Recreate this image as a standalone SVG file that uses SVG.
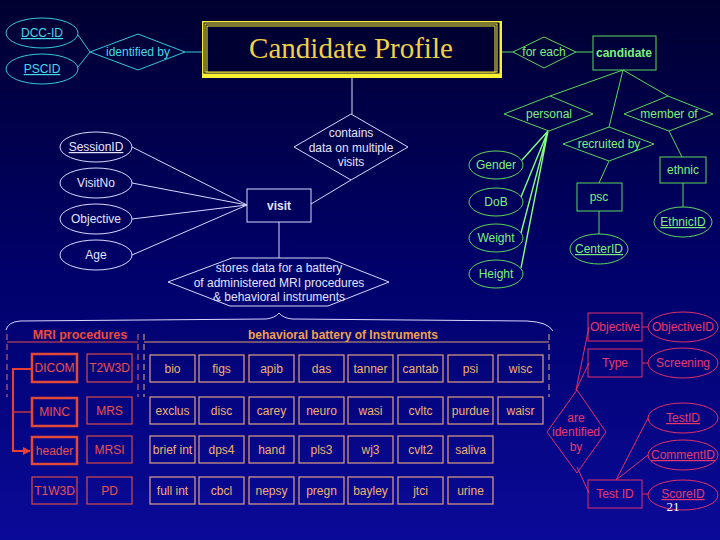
<svg xmlns="http://www.w3.org/2000/svg" width="720" height="540" viewBox="0 0 720 540">
<defs>
<linearGradient id="bg" x1="0" y1="0" x2="0" y2="1">
<stop offset="0" stop-color="#000030"/>
<stop offset="0.5" stop-color="#00006a"/>
<stop offset="1" stop-color="#0a0a98"/>
</linearGradient>
<marker id="arr" viewBox="0 0 10 10" refX="9" refY="5" markerWidth="4" markerHeight="4" orient="auto" markerUnits="strokeWidth">
<path d="M0,0 L10,5 L0,10 z" fill="#e84030"/>
</marker>
<style>
text{font-family:"Liberation Sans",Arial,sans-serif;font-size:12px;text-anchor:middle}
.b{font-weight:bold}
.u{text-decoration:underline}
.cy{fill:none;stroke:#35c8d8;stroke-width:1}
.cyt{fill:#45d8e8}
.w{fill:none;stroke:#d8d8ff;stroke-width:1}
.wt{fill:#e4e4ff}
.g{fill:none;stroke:#5cd85c;stroke-width:1}
.gt{fill:#7cf07c}
.r{fill:none;stroke:#d84a48;stroke-width:1.2}
.rk{fill:none;stroke:#e04838;stroke-width:2.5}
.rt{fill:#e85050}
.o{fill:none;stroke:#e0a080;stroke-width:1.2}
.ot{fill:#f0b070}
.c{fill:none;stroke:#e0306a;stroke-width:1}
.ct{fill:#e8386e}
.dash{stroke-dasharray:6,4}
</style>
</defs>
<rect width="720" height="540" fill="url(#bg)"/>

<g id="connectors">
<path class="cy" d="M78,35 L90,52 M78,67 L90,52 M185,52 L202,52"/>
<path class="w" d="M352,78 L352,114 M311,204 L351,180 M132,147 L247,205 M132,183 L247,205 M132,219 L247,205 M132,255 L247,205 M279,222 L279,258"/>
<path class="w" d="M6,330 Q8,322 20,321 L266,319 Q275,318 279,313 Q283,318 292,319 L527,321 Q548,322 553,331"/>
<path class="g" d="M502,52 L513,52 M576,52 L593,52 M623,70 L550,96 M623,70 L609,127 M623,70 L668,96 M609,161 L599,183 M599,211 L599,234 M669,131 L682,157 M683,183 L683,207"/>
<path fill="none" stroke="#80ff80" stroke-width="1.4" d="M548,131 L522,160 M548,131 L521,197 M548,131 L521,233 M548,131 L521,268"/>
<path fill="none" stroke="#e05048" stroke-width="1.2" d="M7,342 H138"/>
<path fill="none" stroke="#e07070" stroke-width="1" class="dash" d="M7,334 V397 M138,334 V397"/>
<path fill="none" stroke="#e0a070" stroke-width="1.2" d="M144,342 H549"/>
<path fill="none" stroke="#e0b090" stroke-width="1" class="dash" d="M144,334 V397 M549,334 V397"/>
<path fill="none" stroke="#e84030" stroke-width="2" d="M32,369 H13 V451 H30" marker-end="url(#arr)"/>
<path fill="none" stroke="#e84030" stroke-width="1.2" d="M13,412 H32"/>
<path class="c" d="M642,327 L648,327 M642,363 L648,363 M642,494 L648,494 M616,480 L648,418 M616,480 L648,455 M576,390 L589,327 M576,390 L589,363 M577,467 L589,493"/>
</g>

<g id="dcc-id"><ellipse class="cy" cx="42" cy="33" rx="36" ry="15"/><text class="cyt u" x="42" y="37">DCC-ID</text></g>
<g id="pscid"><ellipse class="cy" cx="42" cy="69" rx="36" ry="15"/><text class="cyt u" x="42" y="73">PSCID</text></g>
<g id="identified-by"><polygon class="cy" points="90,52 138,34 185,52 138,70"/><text class="cyt" x="138" y="56">identified by</text></g>

<g id="candidate-profile">
<rect x="202" y="21" width="300" height="57" fill="#f8f030"/>
<rect x="203.5" y="22.5" width="296" height="51" fill="#000033"/>
<rect x="205" y="24" width="292" height="48" fill="none" stroke="#f8f030" stroke-width="1"/>
<rect x="207" y="26" width="288" height="46" fill="#000033" stroke="#f8f030" stroke-width="1"/>
<text x="351" y="58" style="font-family:'Liberation Serif','Times New Roman',serif;font-size:29px;fill:#f0d048">Candidate Profile</text>
</g>

<g id="contains"><polygon class="w" points="294,147 351,114 408,147 351,180"/><text class="wt" x="351" y="137">contains</text><text class="wt" x="351" y="152">data on multiple</text><text class="wt" x="351" y="166">visits</text></g>
<g id="visit"><rect class="w" x="247" y="189" width="64" height="33"/><text class="wt b" x="279" y="210">visit</text></g>
<g id="sessionid"><ellipse class="w" cx="96" cy="147" rx="36" ry="15"/><text class="wt u" x="96" y="151">SessionID</text></g>
<g id="visitno"><ellipse class="w" cx="96" cy="183" rx="36" ry="15"/><text class="wt" x="96" y="187">VisitNo</text></g>
<g id="objective-attr"><ellipse class="w" cx="96" cy="219" rx="36" ry="15"/><text class="wt" x="96" y="223">Objective</text></g>
<g id="age"><ellipse class="w" cx="96" cy="255" rx="36" ry="15"/><text class="wt" x="96" y="259">Age</text></g>
<g id="stores"><polygon class="w" points="168,282 232,258 328,258 389,282 328,306 230,306"/><text class="wt" x="279" y="272">stores data for a battery</text><text class="wt" x="279" y="287">of administered MRI procedures</text><text class="wt" x="279" y="301">&amp; behavioral instruments</text></g>

<g id="for-each"><polygon class="g" points="513,52 544,37 576,52 544,68"/><text class="gt" x="544" y="56">for each</text></g>
<g id="candidate"><rect class="g" x="593" y="36" width="63" height="34"/><text class="gt b" x="624" y="57">candidate</text></g>
<g id="personal"><polygon class="g" points="504,114 550,96 593,114 549,131"/><text class="gt" x="549" y="118">personal</text></g>
<g id="member-of"><polygon class="g" points="624,114 668,96 713,114 669,131"/><text class="gt" x="669" y="118">member of</text></g>
<g id="recruited-by"><polygon class="g" points="563,144 609,127 654,144 609,161"/><text class="gt" x="609" y="148">recruited by</text></g>
<g id="psc"><rect class="g" x="577" y="183" width="45" height="28"/><text class="gt" x="599" y="201">psc</text></g>
<g id="centerid"><ellipse class="g" cx="599" cy="249" rx="29" ry="15"/><text class="gt u" x="599" y="253">CenterID</text></g>
<g id="ethnic"><rect class="g" x="660" y="157" width="46" height="26"/><text class="gt" x="683" y="174">ethnic</text></g>
<g id="ethnicid"><ellipse class="g" cx="683" cy="222" rx="29" ry="15"/><text class="gt u" x="683" y="226">EthnicID</text></g>
<g id="gender"><ellipse class="g" cx="496" cy="165" rx="27" ry="14"/><text class="gt" x="496" y="169">Gender</text></g>
<g id="dob"><ellipse class="g" cx="496" cy="202" rx="27" ry="14"/><text class="gt" x="496" y="206">DoB</text></g>
<g id="weight"><ellipse class="g" cx="496" cy="238" rx="27" ry="14"/><text class="gt" x="496" y="242">Weight</text></g>
<g id="height"><ellipse class="g" cx="496" cy="274" rx="27" ry="14"/><text class="gt" x="496" y="278">Height</text></g>

<g id="headers">
<text class="b" x="80" y="339" style="font-size:12.5px;fill:#f04a3c">MRI procedures</text>
<text class="b" x="343" y="339" style="fill:#f0a050">behavioral battery of Instruments</text>
</g>

<g id="mri">
<g id="dicom"><rect class="rk" x="32" y="354" width="45" height="28"/><text class="rt" x="54.5" y="372">DICOM</text></g>
<g id="t2w3d"><rect class="r" x="87" y="354" width="45" height="28"/><text class="rt" x="109.5" y="372">T2W3D</text></g>
<g id="minc"><rect class="rk" x="32" y="398" width="45" height="28"/><text class="rt" x="54.5" y="416">MINC</text></g>
<g id="mrs"><rect class="r" x="87" y="397" width="45" height="27"/><text class="rt" x="109.5" y="415">MRS</text></g>
<g id="header"><rect class="rk" x="32" y="437" width="45" height="27"/><text class="rt" x="54.5" y="455">header</text></g>
<g id="mrsi"><rect class="r" x="87" y="436" width="45" height="27"/><text class="rt" x="109.5" y="454">MRSI</text></g>
<g id="t1w3d"><rect class="r" x="32" y="477" width="45" height="27"/><text class="rt" x="54.5" y="495">T1W3D</text></g>
<g id="pd"><rect class="r" x="87" y="477" width="45" height="27"/><text class="rt" x="109.5" y="495">PD</text></g>
</g>

<g id="behavioral">
<g id="bio"><rect class="o" x="150" y="355" width="45" height="27"/><text class="ot" x="172.5" y="373">bio</text></g>
<g id="figs"><rect class="o" x="199" y="355" width="45" height="27"/><text class="ot" x="221.5" y="373">figs</text></g>
<g id="apib"><rect class="o" x="249" y="355" width="45" height="27"/><text class="ot" x="271.5" y="373">apib</text></g>
<g id="das"><rect class="o" x="299" y="355" width="45" height="27"/><text class="ot" x="321.5" y="373">das</text></g>
<g id="tanner"><rect class="o" x="348" y="355" width="45" height="27"/><text class="ot" x="370.5" y="373">tanner</text></g>
<g id="cantab"><rect class="o" x="398" y="355" width="45" height="27"/><text class="ot" x="420.5" y="373">cantab</text></g>
<g id="psi"><rect class="o" x="448" y="355" width="45" height="27"/><text class="ot" x="470.5" y="373">psi</text></g>
<g id="wisc"><rect class="o" x="498" y="355" width="45" height="27"/><text class="ot" x="520.5" y="373">wisc</text></g>

<g id="exclus"><rect class="o" x="150" y="397" width="45" height="27"/><text class="ot" x="172.5" y="415">exclus</text></g>
<g id="disc"><rect class="o" x="199" y="397" width="45" height="27"/><text class="ot" x="221.5" y="415">disc</text></g>
<g id="carey"><rect class="o" x="249" y="397" width="45" height="27"/><text class="ot" x="271.5" y="415">carey</text></g>
<g id="neuro"><rect class="o" x="299" y="397" width="45" height="27"/><text class="ot" x="321.5" y="415">neuro</text></g>
<g id="wasi"><rect class="o" x="348" y="397" width="45" height="27"/><text class="ot" x="370.5" y="415">wasi</text></g>
<g id="cvltc"><rect class="o" x="398" y="397" width="45" height="27"/><text class="ot" x="420.5" y="415">cvltc</text></g>
<g id="purdue"><rect class="o" x="448" y="397" width="45" height="27"/><text class="ot" x="470.5" y="415">purdue</text></g>
<g id="waisr"><rect class="o" x="498" y="397" width="45" height="27"/><text class="ot" x="520.5" y="415">waisr</text></g>

<g id="brief-int"><rect class="o" x="150" y="436" width="45" height="27"/><text class="ot" x="172.5" y="454">brief int</text></g>
<g id="dps4"><rect class="o" x="199" y="436" width="45" height="27"/><text class="ot" x="221.5" y="454">dps4</text></g>
<g id="hand"><rect class="o" x="249" y="436" width="45" height="27"/><text class="ot" x="271.5" y="454">hand</text></g>
<g id="pls3"><rect class="o" x="299" y="436" width="45" height="27"/><text class="ot" x="321.5" y="454">pls3</text></g>
<g id="wj3"><rect class="o" x="348" y="436" width="45" height="27"/><text class="ot" x="370.5" y="454">wj3</text></g>
<g id="cvlt2"><rect class="o" x="398" y="436" width="45" height="27"/><text class="ot" x="420.5" y="454">cvlt2</text></g>
<g id="saliva"><rect class="o" x="448" y="436" width="45" height="27"/><text class="ot" x="470.5" y="454">saliva</text></g>

<g id="full-int"><rect class="o" x="150" y="477" width="45" height="27"/><text class="ot" x="172.5" y="495">full int</text></g>
<g id="cbcl"><rect class="o" x="199" y="477" width="45" height="27"/><text class="ot" x="221.5" y="495">cbcl</text></g>
<g id="nepsy"><rect class="o" x="249" y="477" width="45" height="27"/><text class="ot" x="271.5" y="495">nepsy</text></g>
<g id="pregn"><rect class="o" x="299" y="477" width="45" height="27"/><text class="ot" x="321.5" y="495">pregn</text></g>
<g id="bayley"><rect class="o" x="348" y="477" width="45" height="27"/><text class="ot" x="370.5" y="495">bayley</text></g>
<g id="jtci"><rect class="o" x="398" y="477" width="45" height="27"/><text class="ot" x="420.5" y="495">jtci</text></g>
<g id="urine"><rect class="o" x="448" y="477" width="45" height="27"/><text class="ot" x="470.5" y="495">urine</text></g>
</g>

<g id="objective"><rect class="c" x="588" y="313" width="54" height="28"/><text class="ct" x="615" y="331">Objective</text></g>
<g id="objectiveid"><ellipse class="c" cx="683" cy="327" rx="35" ry="15"/><text class="ct" x="683" y="331">ObjectiveID</text></g>
<g id="type"><rect class="c" x="588" y="349" width="54" height="28"/><text class="ct" x="615" y="367">Type</text></g>
<g id="screening"><ellipse class="c" cx="683" cy="363" rx="35" ry="15"/><text class="ct" x="683" y="367">Screening</text></g>
<g id="are-identified-by"><polygon class="c" points="547,432 577,390 606,432 577,473"/><text class="ct" x="576" y="422">are</text><text class="ct" x="576" y="436">identified</text><text class="ct" x="576" y="451">by</text></g>
<g id="testid-attr"><ellipse class="c" cx="683" cy="418" rx="35" ry="15"/><text class="ct u" x="683" y="422">TestID</text></g>
<g id="commentid"><ellipse class="c" cx="683" cy="455" rx="35" ry="15"/><text class="ct u" x="683" y="459">CommentID</text></g>
<g id="test-id"><rect class="c" x="588" y="480" width="54" height="28"/><text class="ct" x="615" y="498">Test ID</text></g>
<g id="scoreid"><ellipse class="c" cx="683" cy="495" rx="35" ry="15"/><text class="ct u" x="683" y="498">ScoreID</text></g>

<text x="673" y="511" style="font-family:'Liberation Serif','Times New Roman',serif;font-size:13px;fill:#ffffff">21</text>
</svg>
